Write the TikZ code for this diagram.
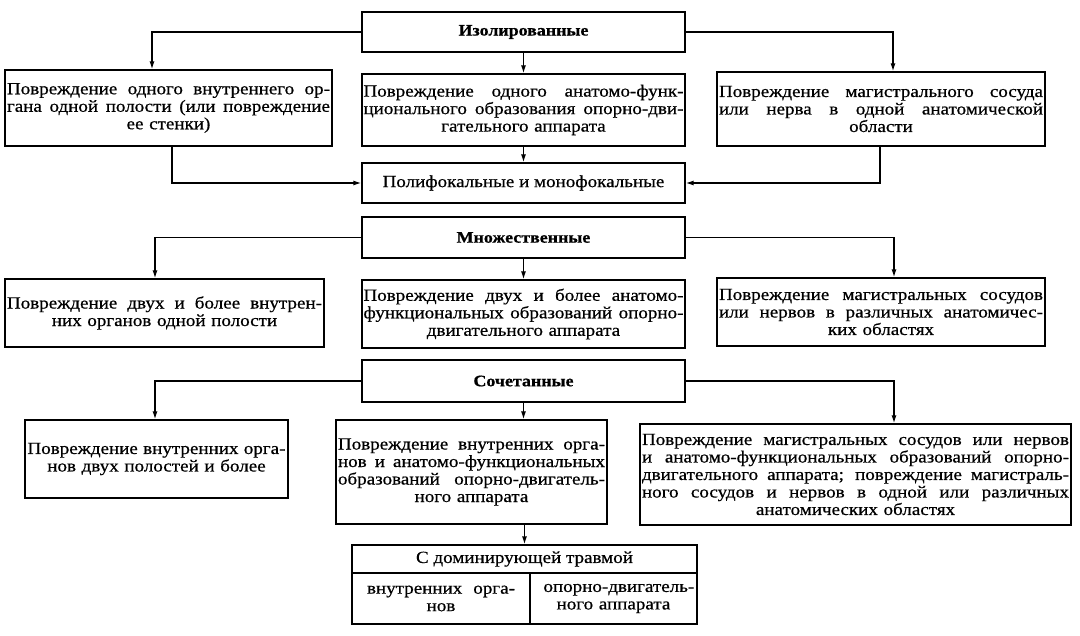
\documentclass[tikz,border=0pt]{standalone}
\usepackage{fontspec}
\setmainfont[FakeStretch=1.12, UprightFeatures={FakeBold=0.6}, BoldFeatures={FakeBold=0.8}]{Liberation Serif}
\usetikzlibrary{arrows.meta}
\newcommand\jl[1]{\noindent\hbox to \hsize{\spaceskip=\fontdimen2\font plus 1fil minus 0.15em\relax #1}\\}
\begin{document}
\begin{tikzpicture}[x=1pt,y=-1pt,
 bx/.style={draw, line width=1.3pt, inner sep=0pt, align=center, font=\fontsize{17}{17.5}\selectfont},
 ttl/.style={bx, font=\fontsize{16}{17}\selectfont\bfseries},
 plain/.style={inner sep=0pt, align=center, font=\fontsize{17}{17.5}\selectfont},
 ln/.style={line width=1.3pt},
 arr/.style={ln, -{Latex[length=8pt,width=5pt]}}]
\useasboundingbox (0,0) rectangle (1080,636);

% row 1
\node[ttl, minimum width=323pt, minimum height=40pt] (iso) at (523.5,32) {Изолированные};
\node[bx, minimum width=327pt, minimum height=76pt, text width=323pt] (b1) at (168.5,108)
 {\jl{Повреждение одного внутреннего ор-}\jl{гана одной полости (или повреждение}ее стенки)};
\node[bx, minimum width=323pt, minimum height=72pt, text width=320pt] (b2) at (523.5,110)
 {\jl{Повреждение одного анатомо-функ-}\jl{ционального образования опорно-дви-}гательного аппарата};
\node[bx, minimum width=328pt, minimum height=74pt, text width=324pt] (b3) at (881,109)
 {\jl{Повреждение магистрального сосуда}\jl{или нерва в одной анатомической}области};
\node[bx, minimum width=323pt, minimum height=40pt] (poly) at (523.5,183) {Полифокальные и монофокальные};

% row 2
\node[ttl, minimum width=323pt, minimum height=41pt] (mult) at (523.5,237.5) {Множественные};
\node[bx, minimum width=319pt, minimum height=68pt, text width=315pt] (b4) at (164.5,313)
 {\jl{Повреждение двух и более внутрен-}них органов одной полости};
\node[bx, minimum width=323pt, minimum height=68pt, text width=320pt] (b5) at (523.5,314)
 {\jl{Повреждение двух и более анатомо-}\jl{функциональных образований опорно-}двигательного аппарата};
\node[bx, minimum width=328pt, minimum height=68pt, text width=324pt] (b6) at (881,312)
 {\jl{Повреждение магистральных сосудов}\jl{или нервов в различных анатомичес-}ких областях};

% row 3
\node[ttl, minimum width=323pt, minimum height=42pt] (comb) at (523.5,381) {Сочетанные};
\node[bx, minimum width=263pt, minimum height=78pt, text width=258pt] (b7) at (156.5,459)
 {\jl{Повреждение внутренних орга-}нов двух полостей и более};
\node[bx, minimum width=271pt, minimum height=104pt, text width=267pt] (b8) at (471.5,472)
 {\jl{Повреждение внутренних орга-}\jl{нов и анатомо-функциональных}\jl{образований опорно-двигатель-}ного аппарата};
\node[bx, minimum width=431pt, minimum height=101pt, text width=427pt] (b9) at (855.5,474.5)
 {\jl{Повреждение магистральных сосудов или нервов}\jl{и анатомо-функциональных образований опорно-}\jl{двигательного аппарата; повреждение магистраль-}\jl{ного сосудов и нервов в одной или различных}анатомических областях};

% dominant box
\node[draw, ln, minimum width=345pt, minimum height=79pt, inner sep=0pt] (dom) at (524.5,584.5) {};
\node[plain] (domh) at (524.5,559) {С доминирующей травмой};
\node[plain, text width=148pt] (doml) at (441,598.5) {\jl{внутренних орга-}нов};
\node[plain, text width=140pt] (domr) at (613.5,598.5) {\jl{опорно-двигатель-}ного аппарата};
\coordinate (hl) at (352,573);
\coordinate (hr) at (697,573);
\coordinate (vt) at (530,573);
\coordinate (vb) at (530,624);
\draw[ln] (hl) -- (hr);
\draw[ln] (vt) -- (vb);

% connectors
\draw[arr] (iso.west) -| ([xshift=-16.5pt]b1.north);
\draw[arr] (iso.east) -| ([xshift=12pt]b3.north);
\draw[arr] (iso.south) -- (b2.north);
\draw[arr] (b2.south) -- (poly.north);
\draw[arr] ([xshift=3.5pt]b1.south) |- (poly.west);
\draw[arr] ([xshift=-1pt]b3.south) |- (poly.east);

\draw[arr] (mult.west) -| ([xshift=-9.5pt]b4.north);
\draw[arr] (mult.east) -| ([xshift=13pt]b6.north);
\draw[arr] (mult.south) -- (b5.north);

\draw[arr] (comb.west) -| ([xshift=-1.5pt]b7.north);
\draw[arr] (comb.east) -| ([xshift=38.5pt]b9.north);
\draw[arr] (comb.south) -- (comb.south |- b8.north);
\draw[arr] (b8.south -| dom.north) -- (dom.north);
\end{tikzpicture}
\end{document}
